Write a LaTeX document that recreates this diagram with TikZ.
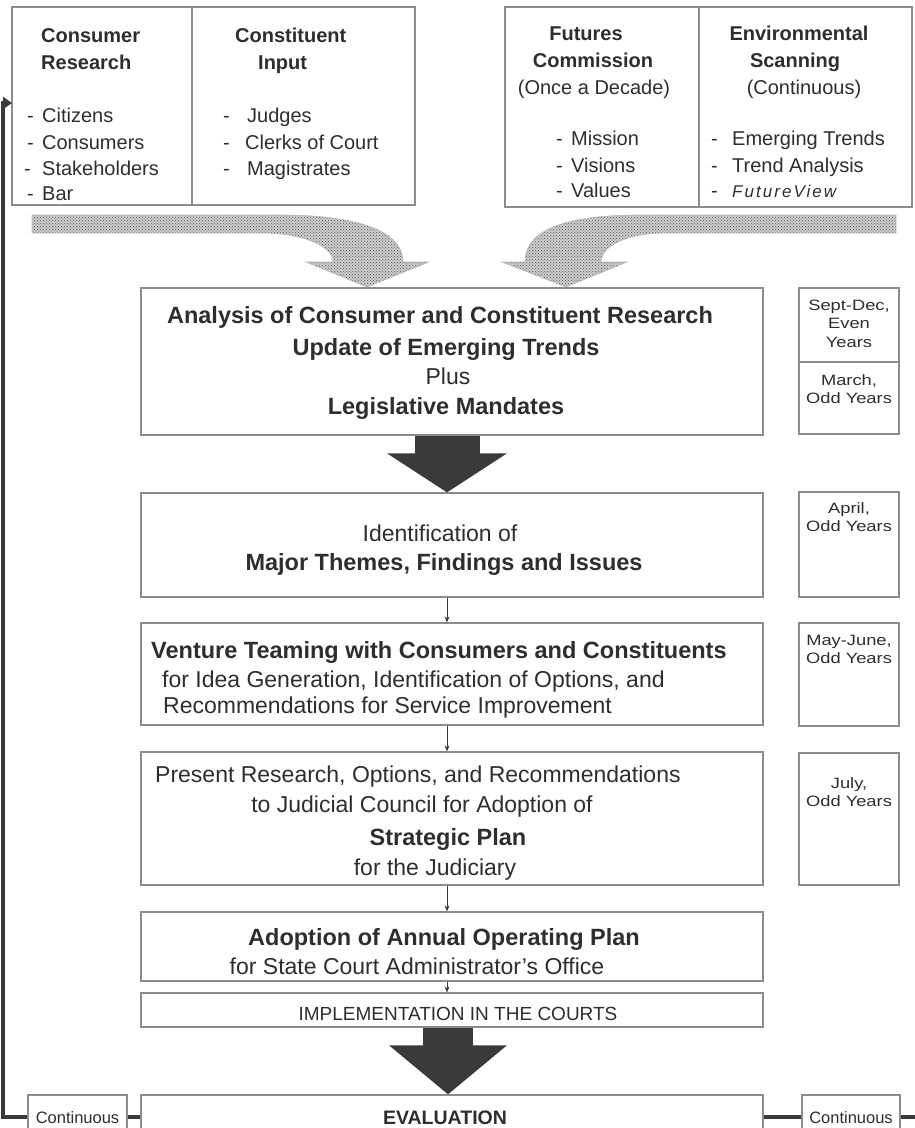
\documentclass[tikz,border=0pt]{standalone}
\usepackage{fontspec}
\setmainfont{Liberation Sans}
\newfontfamily\fvfont[LetterSpace=12]{Liberation Sans}
\newfontfamily\widefont[FakeStretch=1.22]{Liberation Sans}
\usetikzlibrary{arrows.meta,patterns,calc}
\definecolor{ink}{HTML}{2E2E2E}
\definecolor{frame}{HTML}{8C8C8C}
\definecolor{dark}{HTML}{3A3A3A}
\newcommand{\fs}[1]{\fontsize{#1}{#1}\selectfont}
\newcommand{\itm}[2]{\makebox[#1][l]{-}#2}
\begin{document}
\begin{tikzpicture}[x=1pt,y=-1pt,
  box/.style={draw=frame,line width=1.2pt,inner sep=0pt,fill=white},
  tx/.style={inner sep=0pt,anchor=base,text=ink},
  tw/.style={inner sep=0pt,anchor=base west,text=ink},
  hd/.style={font=\fs{20}\bfseries},
  it/.style={font=\fs{20}},
  mb/.style={font=\fs{23.5}\bfseries},
  mr/.style={font=\fs{23}},
  dt/.style={font=\widefont\fs{15}},
  blk/.style={draw=dark,line width=#1},
  thin/.style={draw=dark,line width=1pt,-{Stealth[length=6pt,width=5pt]}},
  fb/.style={draw=dark,line width=4pt},
  hatch/.style={draw=gray!55,line width=0.6pt,pattern=crosshatch dots,pattern color=black!65,preaction={fill=gray!40}}
]
\useasboundingbox (0,0) rectangle (915,1128);

% ---------- top left box ----------
\node[box,minimum width=180pt,minimum height=198pt] (tla) at (102,106) {};
\node[box,minimum width=223pt,minimum height=198pt] (tlb) at (303.5,106) {};
\node[tw,hd] (tla1) at (41,42) {Consumer};
\node[tw,hd] (tla2) at (41,69) {Research};
\node[tw,it] (tla3) at (27,122) {\itm{15pt}{Citizens}};
\node[tw,it] (tla4) at (27,149) {\itm{15pt}{Consumers}};
\node[tw,it] (tla5) at (24,175) {\itm{18pt}{Stakeholders}};
\node[tw,it] (tla6) at (27,200) {\itm{15pt}{Bar}};
\node[tw,hd] (tlb1) at (235,42) {Constituent};
\node[tw,hd] (tlb2) at (258,69) {Input};
\node[tw,it] (tlb3) at (223,122) {\itm{24pt}{Judges}};
\node[tw,it] (tlb4) at (223,149) {\itm{22pt}{Clerks of Court}};
\node[tw,it] (tlb5) at (223,175) {\itm{24pt}{Magistrates}};

% ---------- top right box ----------
\node[box,minimum width=194pt,minimum height=200pt] (tra) at (602,107) {};
\node[box,minimum width=213pt,minimum height=200pt] (trb) at (805.5,107) {};
\node[tx,hd] (tra1) at (586,40) {Futures};
\node[tx,hd] (tra2) at (593,67) {Commission};
\node[tx,it] (tra3) at (594,94) {(Once a Decade)};
\node[tw,it] (tra4) at (556,145) {\itm{15pt}{Mission}};
\node[tw,it] (tra5) at (556,172) {\itm{15pt}{Visions}};
\node[tw,it] (tra6) at (556,197) {\itm{15pt}{Values}};
\node[tx,hd] (trb1) at (799,40) {Environmental};
\node[tx,hd] (trb2) at (795,67) {Scanning};
\node[tx,it] (trb3) at (804,94) {(Continuous)};
\node[tw,it] (trb4) at (711,145) {\itm{21pt}{Emerging Trends}};
\node[tw,it] (trb5) at (711,172) {\itm{21pt}{Trend Analysis}};
\node[tw,it] (trb6) at (711,197) {\itm{21pt}{{\fvfont\fs{17}\itshape FutureView}}};

% ---------- hatched bent arrows ----------
\draw[hatch] (32,215) -- (280,215) .. controls (350,215) and (403,228) .. (403,262)
  -- (429,262) -- (367,287) -- (306,262) -- (333,262)
  .. controls (333,245) and (300,233) .. (262,233) -- (32,233) -- cycle;
\draw[hatch] (896,215) -- (640,215) .. controls (570,215) and (525,228) .. (525,262)
  -- (502,262) -- (566,287) -- (627,262) -- (601,262)
  .. controls (601,245) and (630,233) .. (665,233) -- (896,233) -- cycle;

% ---------- main boxes ----------
\node[box,minimum width=622pt,minimum height=147pt] (an) at (452,361.5) {};
\node[box,minimum width=622pt,minimum height=104pt] (id) at (452,545) {};
\node[box,minimum width=622pt,minimum height=102pt] (vt) at (452,674) {};
\node[box,minimum width=622pt,minimum height=133pt] (pr) at (452,818.5) {};
\node[box,minimum width=622pt,minimum height=69pt] (ad) at (452,946.5) {};
\node[box,minimum width=622pt,minimum height=34pt] (im) at (452,1010) {};
\node[box,minimum width=622pt,minimum height=44pt] (ev) at (452,1117) {};

\node[tx,mb] (an1) at (440,323) {Analysis of Consumer and Constituent Research};
\node[tx,mb] (an2) at (446,355) {Update of Emerging Trends};
\node[tx,mr] (an3) at (448,384) {Plus};
\node[tx,mb] (an4) at (446,414) {Legislative Mandates};

\node[tx,mr] (id1) at (440,541) {Identification of};
\node[tx,mb] (id2) at (444,570) {Major Themes, Findings and Issues};

\node[tw,mb] (vt1) at (151,658) {Venture Teaming with Consumers and Constituents};
\node[tw,mr] (vt2) at (162,687) {for Idea Generation, Identification of Options, and};
\node[tw,mr] (vt3) at (163,713) {Recommendations for Service Improvement};

\node[tw,mr] (pr1) at (155,782) {Present Research, Options, and Recommendations};
\node[tx,mr] (pr2) at (422,812) {to Judicial Council for Adoption of};
\node[tx,mb] (pr3) at (448,845) {Strategic Plan};
\node[tx,mr] (pr4) at (435,875) {for the Judiciary};

\node[tx,mb] (ad1) at (444,945) {Adoption of Annual Operating Plan};
\node[tx,mr] (ad2) at (417,974) {for State Court Administrator's Office};

\node[tx,font=\fs{19}] (im1) at (458,1020) {IMPLEMENTATION IN THE COURTS};
\node[tx,font=\fs{19.5}\bfseries] (ev1) at (445,1124) {EVALUATION};

% ---------- date boxes ----------
\node[box,minimum width=100pt,minimum height=74pt] (d1a) at (849,325) {};
\node[box,minimum width=100pt,minimum height=72pt] (d1b) at (849,398) {};
\node[box,minimum width=100pt,minimum height=105pt] (d2) at (849,544.5) {};
\node[box,minimum width=100pt,minimum height=103pt] (d3) at (849,674.5) {};
\node[box,minimum width=100pt,minimum height=132pt] (d4) at (849,819) {};
\node[tx,dt] (d1a1) at (849,310) {Sept-Dec,};
\node[tx,dt] (d1a2) at (849,328) {Even};
\node[tx,dt] (d1a3) at (849,347) {Years};
\node[tx,dt] (d1b1) at (849,385) {March,};
\node[tx,dt] (d1b2) at (849,403) {Odd Years};
\node[tx,dt] (d21) at (849,513) {April,};
\node[tx,dt] (d22) at (849,531) {Odd Years};
\node[tx,dt] (d31) at (849,645) {May-June,};
\node[tx,dt] (d32) at (849,663) {Odd Years};
\node[tx,dt] (d41) at (849,788) {July,};
\node[tx,dt] (d42) at (849,806) {Odd Years};

% ---------- continuous boxes ----------
\node[box,minimum width=99pt,minimum height=44pt] (cl) at (77.5,1117) {};
\node[box,minimum width=98pt,minimum height=44pt] (cr) at (851,1117) {};
\node[tx,font=\fs{16.5}] (cl1) at (77.5,1123) {Continuous};
\node[tx,font=\fs{16.5}] (cr1) at (851,1123) {Continuous};

% ---------- dark block arrows ----------
\draw[blk=65pt,-{Triangle[length=39pt,width=118pt]}] ([xshift=-5pt]an.south) -- ([xshift=-5pt]id.north);
\draw[blk=50pt,-{Triangle[length=49pt,width=115pt]}] ([xshift=-4pt]im.south) -- ([xshift=-4pt]ev.north);

% ---------- thin arrows ----------
\draw[thin] ([xshift=-5pt]id.south) -- ([xshift=-5pt]vt.north);
\draw[thin] ([xshift=-5pt]vt.south) -- ([xshift=-5pt]pr.north);
\draw[thin] ([xshift=-5pt]pr.south) -- ([xshift=-5pt]ad.north);
\draw[thin] ([xshift=-5pt]ad.south) -- ([xshift=-5pt]im.north);

% ---------- feedback loop ----------
\coordinate (fbin) at (12,103);
\coordinate (rend) at (915,1117);
\draw[fb,-{Triangle[length=9pt,width=12pt]}] (cl.west) -- (3,1117) -- (3,103) -- (fbin);
\draw[fb] (cl.east) -- (ev.west);
\draw[fb] (ev.east) -- (cr.west);
\draw[fb] (cr.east) -- (rend);
\end{tikzpicture}
\end{document}
